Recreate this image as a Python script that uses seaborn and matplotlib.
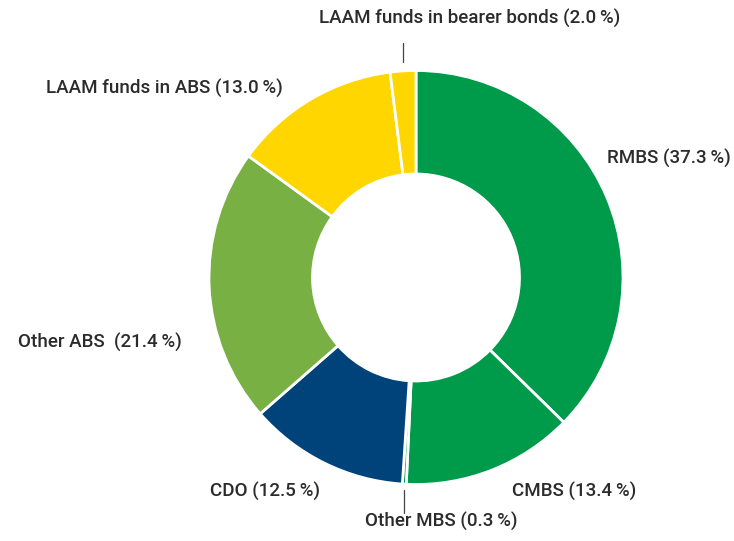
import numpy as np
import matplotlib
matplotlib.use("Agg")
import matplotlib.pyplot as plt
import seaborn as sns

# --- data ---
categories = ["RMBS", "CMBS", "Other MBS", "CDO", "Other ABS",
              "LAAM funds in ABS", "LAAM funds in bearer bonds"]
shares = [37.3, 13.4, 0.3, 12.5, 21.4, 13.0, 2.0]
label_texts = ["RMBS (37.3\u2009%)", "CMBS (13.4\u2009%)", "Other MBS (0.3\u2009%)",
               "CDO (12.5\u2009%)", "Other ABS  (21.4\u2009%)",
               "LAAM funds in ABS (13.0\u2009%)",
               "LAAM funds in bearer bonds (2.0\u2009%)"]

# colours per slice
colors = ["#009A4B", "#009A4B", "#009A4B", "#00437A", "#78B043", "#FFD600", "#FFD600"]

# label placement (axes data units, radius = 1)
label_pos = [(0.923, 0.577), (0.464, -1.036), (0.121, -1.181), (-0.464, -1.036),
             (-1.130, -0.316), (-0.643, 0.915), (0.261, 1.249)]
label_ha = ["left", "left", "center", "right", "right", "right", "center"]
# slices that get a small vertical leader line
leader = {2: (-1.027, -1.138), 6: (1.041, 1.133)}

sns.set_theme(style="white")
plt.rcParams["font.family"] = ["Roboto", "DejaVu Sans"]

fig = plt.figure(figsize=(7.34, 5.41), dpi=100)
ax = fig.add_axes([209 / 734, 56.5 / 541, 414 / 734, 414 / 541])

wedges, _ = ax.pie(shares, colors=colors, startangle=90, counterclock=False,
                   radius=1.0,
                   wedgeprops=dict(width=0.5, edgecolor="white", linewidth=2))
ax.set_xlim(-1, 1)
ax.set_ylim(-1, 1)
ax.set_aspect("equal")
ax.axis("off")

for i, w in enumerate(wedges):
    mid = np.deg2rad((w.theta1 + w.theta2) / 2)
    x, y = label_pos[i]
    ax.text(x, y, label_texts[i], ha=label_ha[i], va="center",
            fontsize=13.5, fontweight="medium", color="#2b2b2b", clip_on=False)
    if i in leader:
        y0, y1 = leader[i]
        lx = np.cos(mid)
        ax.plot([lx, lx], [y0, y1], color="#444444", lw=0.9, clip_on=False)

fig.savefig("out.png", dpi=100)
